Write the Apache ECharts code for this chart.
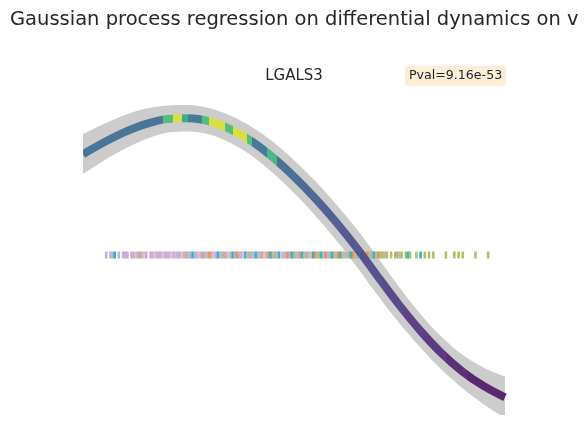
<!DOCTYPE html>
<html><head><meta charset="utf-8">
<style>html,body{margin:0;padding:0;background:#fff}#c{width:588px;height:446px}</style>
<script src="https://cdn.jsdelivr.net/npm/echarts@6/dist/echarts.min.js"></script>
</head><body><div id="c"></div>
<script>
// ---- data ----
const titleText = 'Gaussian process regression on differential dynamics on v';
const geneName = 'LGALS3';
const pvalText = 'Pval=9.16e-53';

const pseudotime = [0,5,10,15,20,25,30,35,40,45,50,55,60,65,70,75,80,85,90,95,100];
const meanExpr   = [1.26,1.41,1.54,1.64,1.70,1.71,1.67,1.57,1.42,1.22,0.98,0.71,0.41,0.08,-0.28,-0.63,-0.95,-1.23,-1.46,-1.64,-1.78];
const bandHalf   = [0.25,0.23,0.21,0.19,0.17,0.165,0.165,0.17,0.18,0.195,0.205,0.215,0.225,0.235,0.235,0.225,0.21,0.205,0.21,0.23,0.26];

// colour value (viridis scale 0..1) of the line between consecutive edges
const segEdges  = [0,19.0,21.3,23.5,24.9,28.2,29.9,33.6,35.5,38.9,40.0,43.6,46.0,51,56,61,66,71,76,81,86,91,100];
const segValues = [0.33,0.68,0.95,0.6,0.35,0.68,0.95,0.68,0.95,0.68,0.35,0.65,0.31,0.27,0.24,0.21,0.18,0.15,0.12,0.09,0.06,0.03];

// rug: one character per tick position (start, step), letter = cell group, '.' = none
const rugStart = 5.5, rugStep = 0.5, rugLevel = 0;
const rugCodes =
  "L.LLC.L.LL" + "L.LLPLOLPL" + ".LLPLLLPLL" + "LPLGLLPLOL" + "LCLLPLOLLR" +
  "LPLCLLOLPL" + "CLRLLPCLOL" + "LCLLOPLRCL" + "OLCPLLRLCO" + "LLRCLOLPCR" +
  "LOCLRLLCOL" + "RCOLLOCRLO" + "LCOLRLOCLR" + "OOLO.O.OOL" + "O.OCO..O.C" +
  ".O.O.O...." + ".O...O.O.O" + ".....O.....O";

// ---- styles ----
const groupColors = {L:'#c5b0d5', P:'#f7b6d2', C:'#17becf', O:'#b5bd61', R:'#f0913a', G:'#c7c7c7'};
const viridis = ['#440154','#482475','#414487','#355f8d','#2a788e','#21918c','#22a884','#44bf70','#7ad151','#bddf26','#fde725'];
function hex2rgb(h){return [1,3,5].map(i=>parseInt(h.substr(i,2),16));}
function viridisAt(t){
  t=Math.max(0,Math.min(1,t))*10; const i=Math.min(9,Math.floor(t)), f=t-i;
  const a=hex2rgb(viridis[i]), b=hex2rgb(viridis[i+1]);
  return 'rgb('+a.map((v,k)=>Math.round(v+(b[k]-v)*f)).join(',')+')';
}

const upperData = pseudotime.map((x,i)=>[x, +(meanExpr[i]+bandHalf[i]).toFixed(3)]);
const lowerData = pseudotime.map((x,i)=>[x, +(meanExpr[i]-bandHalf[i]).toFixed(3)]);
const meanData  = pseudotime.map((x,i)=>[x, meanExpr[i]]);
const pieces = segValues.map((v,i)=>({gte:segEdges[i], lt:(i===segValues.length-1? segEdges[i+1]+1 : segEdges[i+1]), color:viridisAt(v)}));

const rugData = [];
for (let i=0;i<rugCodes.length;i++){
  const c = rugCodes[i]; if (c==='.') continue;
  rugData.push({value:[rugStart+rugStep*i, rugLevel], itemStyle:{color:groupColors[c], opacity:1}});
}

const font = 'DejaVu Sans';
const sm = 0.35;
const chart = echarts.init(document.getElementById('c'), null, {renderer:'canvas'});
chart.setOption({
  animation:false,
  backgroundColor:'#ffffff',
  title:[
    {text:titleText, left:10, top:10, padding:0, textStyle:{fontFamily:font, fontSize:19.5, fontWeight:'normal', color:'#262626'}},
    {text:geneName, left:'center', top:69, padding:0, textStyle:{fontFamily:font, fontSize:15, fontWeight:'normal', color:'#262626'}},
    {text:pvalText, left:405, top:66, padding:[3,4,3,4], backgroundColor:'#faeed9', borderRadius:3,
     textStyle:{fontFamily:font, fontSize:12.6, fontWeight:'normal', color:'#262626', lineHeight:14}}
  ],
  grid:{left:83, right:83, top:95, height:320},
  xAxis:{type:'value', min:0, max:100, show:false},
  yAxis:{type:'value', min:-2, max:2, show:false},
  visualMap:[{type:'piecewise', show:false, dimension:0, seriesIndex:3, pieces:pieces}],
  series:[
    {type:'line', data:upperData, smooth:sm, symbol:'none', lineStyle:{width:0, opacity:0},
     areaStyle:{color:'#cccccc', opacity:1, origin:'start'}, z:1, silent:true},
    {type:'line', data:lowerData, smooth:sm, symbol:'none', lineStyle:{width:0, opacity:0},
     areaStyle:{color:'#ffffff', opacity:1, origin:'start'}, z:1, silent:true},
    {type:'scatter', data:rugData, symbol:'rect', symbolSize:[2.6,7], itemStyle:{opacity:1}, z:2, silent:true},
    {type:'line', data:meanData, smooth:sm, symbol:'none', showSymbol:false, lineStyle:{width:8, opacity:0.85}, z:3, silent:true}
  ]
});
</script></body></html>
